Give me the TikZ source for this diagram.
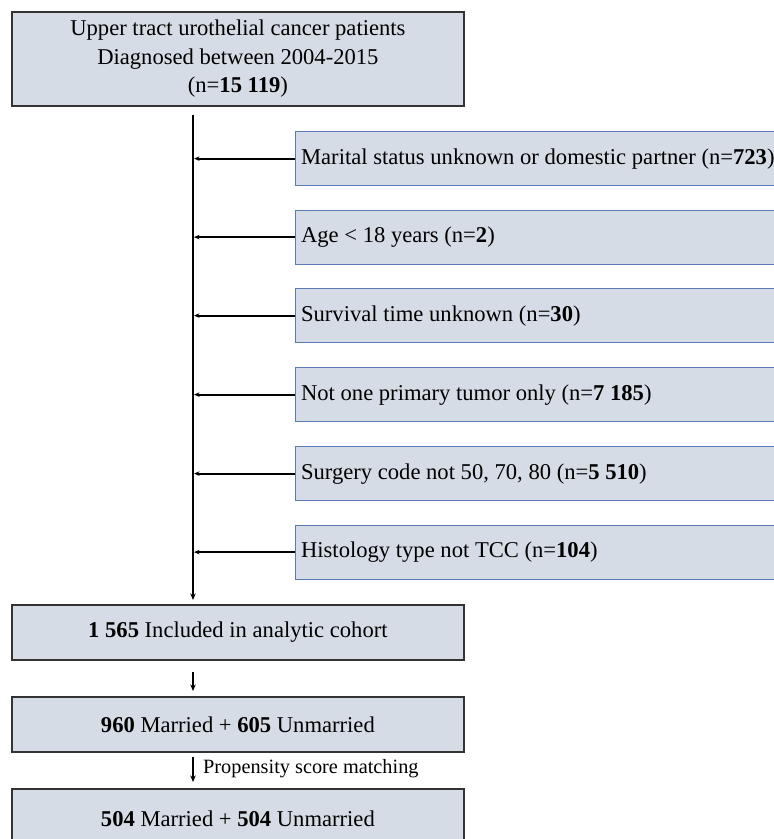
\documentclass[tikz,border=0pt]{standalone}
\usepackage{fontspec}
\setmainfont{Liberation Serif}
\usetikzlibrary{arrows.meta,calc}
\definecolor{boxfill}{HTML}{D6DCE5}
\definecolor{mainborder}{HTML}{333333}
\definecolor{sideborder}{HTML}{5A7AB5}
\tikzset{
  mainbox/.style={draw=mainborder, line width=1.8pt, fill=boxfill, anchor=north west,
    minimum width=452pt, inner sep=0pt, align=flush center, font=\fontsize{22.6}{28.5}\selectfont},
  sidebox/.style={draw=sideborder, line width=1.2pt, fill=boxfill, anchor=north west,
    text width=500pt, inner xsep=5.5pt, inner ysep=0pt, minimum height=54pt, align=flush left,
    font=\fontsize{22.6}{26}\selectfont},
  arr/.style={line width=2pt, -{Stealth[length=6.5pt,width=5.5pt]}},
  sarr/.style={line width=2pt, -{Stealth[length=5.5pt,width=4.5pt]}},
  lbl/.style={font=\fontsize{20.3}{22}\selectfont, anchor=west, inner sep=0pt}
}
\begin{document}
\begin{tikzpicture}[x=1pt,y=-1pt]
\useasboundingbox (0,0) rectangle (774,839);
\coordinate (spine) at (193,0);
\node[mainbox, minimum height=94pt] (top) at (11,11)
  {Upper tract urothelial cancer patients\\Diagnosed between 2004-2015\\(n=\textbf{15 119})};
\node[sidebox] (e1) at (295,131) {Marital status unknown or domestic partner (n=\textbf{723})};
\node[sidebox] (e2) at (295,209.5) {Age {\textless} 18 years (n=\textbf{2})};
\node[sidebox] (e3) at (295,288) {Survival time unknown (n=\textbf{30})};
\node[sidebox] (e4) at (295,367) {Not one primary tumor only (n=\textbf{7 185})};
\node[sidebox] (e5) at (295,446) {Surgery code not 50, 70, 80 (n=\textbf{5 510})};
\node[sidebox] (e6) at (295,524.5) {Histology type not TCC (n=\textbf{104})};
\node[mainbox, minimum height=55pt] (cohort) at (11,604) {\textbf{1 565} Included in analytic cohort};
\node[mainbox, minimum height=55pt] (mar) at (11,696) {\textbf{960} Married + \textbf{605} Unmarried};
\node[mainbox, minimum height=60pt] (psm) at (11,788) {\textbf{504} Married + \textbf{504} Unmarried};
\draw[arr, shorten <=8pt, shorten >=4pt] (top.south -| spine) -- (cohort.north -| spine);
\foreach \e in {e1,e2,e3,e4,e5,e6}{
  \draw[sarr, shorten >=1pt] (\e.west) -- (\e.west -| spine);
}
\draw[arr, shorten <=11pt, shorten >=5pt] (cohort.south -| spine) -- (mar.north -| spine);
\draw[arr, shorten <=4pt, shorten >=6pt] (mar.south -| spine) -- (psm.north -| spine);
\node[lbl] (psmlbl) at (203,769) {Propensity score matching};
\end{tikzpicture}
\end{document}
